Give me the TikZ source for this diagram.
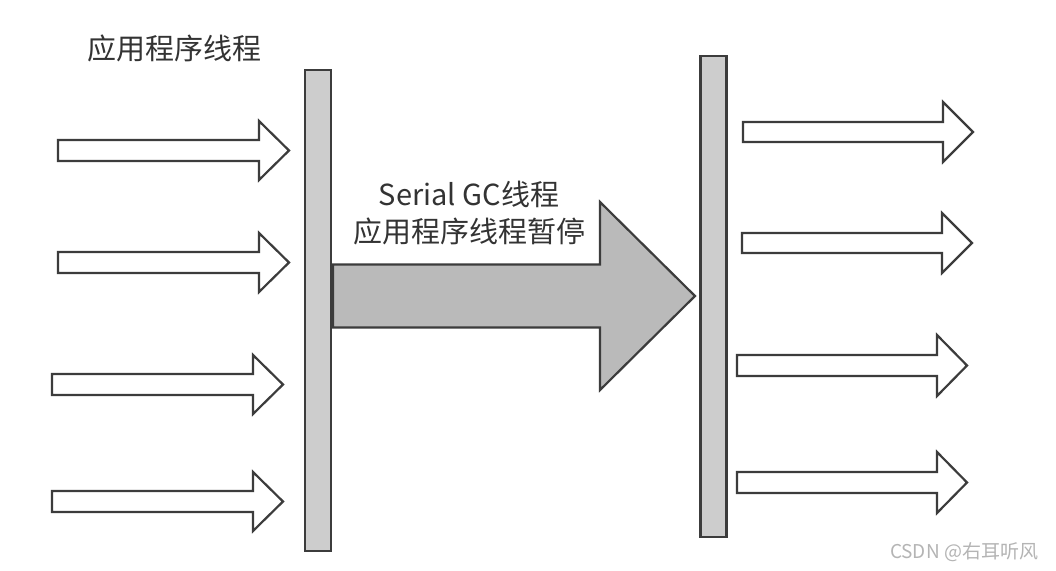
\documentclass[tikz,border=0pt]{standalone}
\usepackage{fontspec}
\setmainfont{Noto Sans CJK SC}
\definecolor{edge}{HTML}{3C3C3C}
\definecolor{barfill}{HTML}{CDCDCD}
\definecolor{bigfill}{HTML}{BABABA}
\definecolor{wm}{HTML}{B4B4B4}
\newcommand{\blockarrow}[7]{%
  \path[#1] (#2,{#4-#5}) -- ({#3-#7},{#4-#5}) -- ({#3-#7},{#4-#6}) -- (#3,#4)
    -- ({#3-#7},{#4+#6}) -- ({#3-#7},{#4+#5}) -- (#2,{#4+#5}) -- cycle;}
\begin{document}
\begin{tikzpicture}[x=1pt,y=-1pt,
  thinarrow/.style={draw=edge, line width=2.2pt, fill=white},
  bigarrow/.style={draw=edge, line width=2.2pt, fill=bigfill},
  barbox/.style={draw=edge, line width=2.2pt, fill=barfill, inner sep=0pt, minimum width=26pt},
  lbl/.style={font=\fontsize{29}{37}\selectfont, text=black!80, inner sep=0pt, align=center},
  wmtext/.style={font=\fontsize{19}{22}\selectfont, text=wm, inner sep=0pt}]
\useasboundingbox[fill=white] (0,0) rectangle (1056,570);
% bars
\node[barbox, minimum height=481pt] (lbar) at (318,310.5) {};
\node[barbox, minimum height=481pt] (rbar) at (713.5,296.5) {};
% left arrows
\blockarrow{thinarrow}{58}{289}{150.5}{10.5}{29.5}{30}
\blockarrow{thinarrow}{58}{289}{262.5}{10.5}{29.5}{30}
\blockarrow{thinarrow}{52}{283}{384.5}{10.5}{29.5}{30}
\blockarrow{thinarrow}{52}{283}{501.5}{10.5}{29.5}{30}
% right arrows
\blockarrow{thinarrow}{743}{973}{132}{10}{30}{30}
\blockarrow{thinarrow}{742}{972}{243}{10}{30}{30}
\blockarrow{thinarrow}{737}{967}{365.5}{10.5}{30.5}{30}
\blockarrow{thinarrow}{737}{967}{482.5}{10.5}{30.5}{30}
% big arrow
\blockarrow{bigarrow}{333}{695}{296}{31.5}{94}{95}
% labels
\node[lbl] (app) at (174,48) {应用程序线程};
\node[lbl] (gc) at (469,213.5) {Serial GC线程\\应用程序线程暂停};
\node[wmtext] (wmk) at (964,552) {CSDN @右耳听风};
\end{tikzpicture}
\end{document}
